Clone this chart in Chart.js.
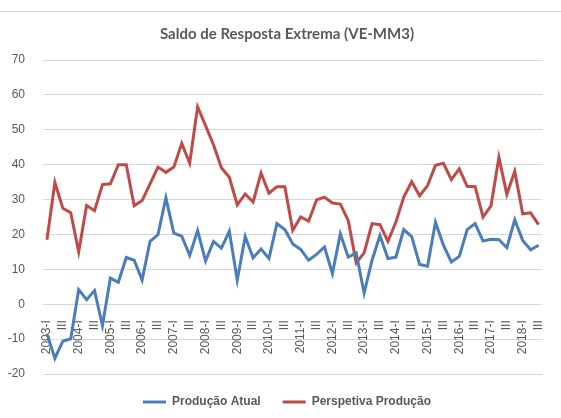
<!DOCTYPE html>
<html>
<head>
<meta charset="utf-8">
<script src="https://cdn.jsdelivr.net/npm/chart.js@4/dist/chart.umd.min.js"></script>
<style>
  html, body { margin: 0; padding: 0; background: #fff; }
  #wrap { position: relative; width: 561px; height: 418px; }
  #topLine { position: absolute; left: 0; top: 11px; width: 561px; height: 1px; background: #d9d9d9; }
  #chart { position: absolute; left: 0; top: 0; }
</style>
</head>
<body>
<div id="wrap">
  <div id="topLine"></div>
  <canvas id="chart" width="561" height="418"></canvas>
</div>
<script>
// data (quarterly, 2003-I .. 2018-III)
const years = [2003, 2004, 2005, 2006, 2007, 2008, 2009, 2010, 2011, 2012, 2013, 2014, 2015, 2016, 2017, 2018];
const quarters = ['I', 'II', 'III', 'IV'];

const producaoAtual = [
  -8.5, -15.5, -10.6, -9.9, 4.2, 1.3, 3.9, -6.1, 7.5, 6.3,
  13.4, 12.6, 6.9, 18.0, 19.9, 30.5, 20.4, 19.5, 14.0, 21.1,
  12.4, 18.0, 16.1, 20.9, 6.9, 19.4, 13.3, 15.8, 13.1, 23.1,
  21.4, 17.3, 15.7, 12.6, 14.3, 16.4, 8.8, 20.2, 13.5, 14.7,
  3.2, 12.6, 19.7, 13.1, 13.5, 21.4, 19.4, 11.4, 10.9, 23.5,
  16.9, 12.1, 13.7, 21.4, 23.1, 18.1, 18.6, 18.5, 16.2, 24.2,
  18.3, 15.6, 16.9
];
const perspetivaProducao = [
  18.5, 34.9, 27.5, 26.2, 15.0, 28.3, 26.8, 34.3, 34.5, 40.0,
  40.0, 28.2, 29.7, 34.5, 39.3, 37.8, 39.3, 46.1, 40.4, 56.6,
  51.2, 45.7, 39.1, 36.4, 28.5, 31.6, 29.3, 37.6, 31.8, 33.7,
  33.7, 21.2, 25.0, 23.8, 29.9, 30.7, 29.0, 28.7, 24.0, 11.8,
  14.7, 23.1, 22.8, 18.0, 23.5, 30.7, 35.1, 31.1, 34.0, 39.8,
  40.4, 35.7, 38.8, 33.8, 33.7, 25.0, 28.2, 42.1, 31.5, 38.1,
  25.9, 26.2, 22.8
];
const yMin = -20, yMax = 70, yStep = 10;

// category labels: "2003-I", "II", "III", "IV", "2004-I", ...
const labels = [];
years.forEach(y => quarters.forEach((q, i) => labels.push(i === 0 ? y + '-' + q : q)));
labels.length = producaoAtual.length;

const grey = '#595959';

// title and legend sit a little right of the canvas centre in the original
const nudgeBoxes = {
  id: 'nudgeBoxes',
  afterLayout(chart) {
    [chart.titleBlock, chart.legend].forEach(function (b) {
      if (b) { b.left += 9; b.right += 9; }
    });
  }
};

new Chart(document.getElementById('chart'), {
  type: 'line',
  data: {
    labels: labels,
    datasets: [{
      label: 'Produção Atual',
      data: producaoAtual,
      borderColor: '#4A7EBB',
      backgroundColor: '#4A7EBB',
      borderWidth: 3,
      pointRadius: 0,
      tension: 0
    }, {
      label: 'Perspetiva Produção',
      data: perspetivaProducao,
      borderColor: '#BE4B48',
      backgroundColor: '#BE4B48',
      borderWidth: 3,
      pointRadius: 0,
      tension: 0
    }]
  },
  plugins: [nudgeBoxes],
  options: {
    responsive: false,
    animation: false,
    layout: { padding: { left: 0, right: 5, top: 0, bottom: 0 } },
    plugins: {
      title: {
        display: true,
        text: 'Saldo de Resposta Extrema (VE-MM3)',
        color: grey,
        font: { family: 'Lato', size: 15, weight: 'bold' },
        padding: { top: 25, bottom: 17 }
      },
      legend: {
        position: 'bottom',
        labels: {
          color: grey,
          font: { family: 'Liberation Sans', size: 12, weight: 'bold' },
          usePointStyle: true,
          pointStyle: 'line',
          pointStyleWidth: 23,
          padding: 22
        }
      },
      tooltip: { enabled: false }
    },
    scales: {
      x: {
        position: { y: 0 },
        offset: true,
        grid: { display: false },
        border: { display: false },
        ticks: {
          color: grey,
          font: { family: 'Liberation Sans', size: 12 },
          autoSkip: false,
          minRotation: 90,
          maxRotation: 90,
          padding: 8,
          callback: function (v, i) { return i % 2 === 0 ? this.getLabelForValue(v) : ''; }
        },
        afterFit: function (scale) { scale.height = 0; }
      },
      y: {
        min: yMin,
        max: yMax,
        grid: { color: '#d9d9d9', lineWidth: 1, drawTicks: false },
        border: { display: false },
        ticks: {
          stepSize: yStep,
          color: grey,
          font: { family: 'Liberation Sans', size: 12 },
          padding: 18
        },
        afterFit: function (scale) { scale.width = 43; }
      }
    }
  }
});
</script>
</body>
</html>
